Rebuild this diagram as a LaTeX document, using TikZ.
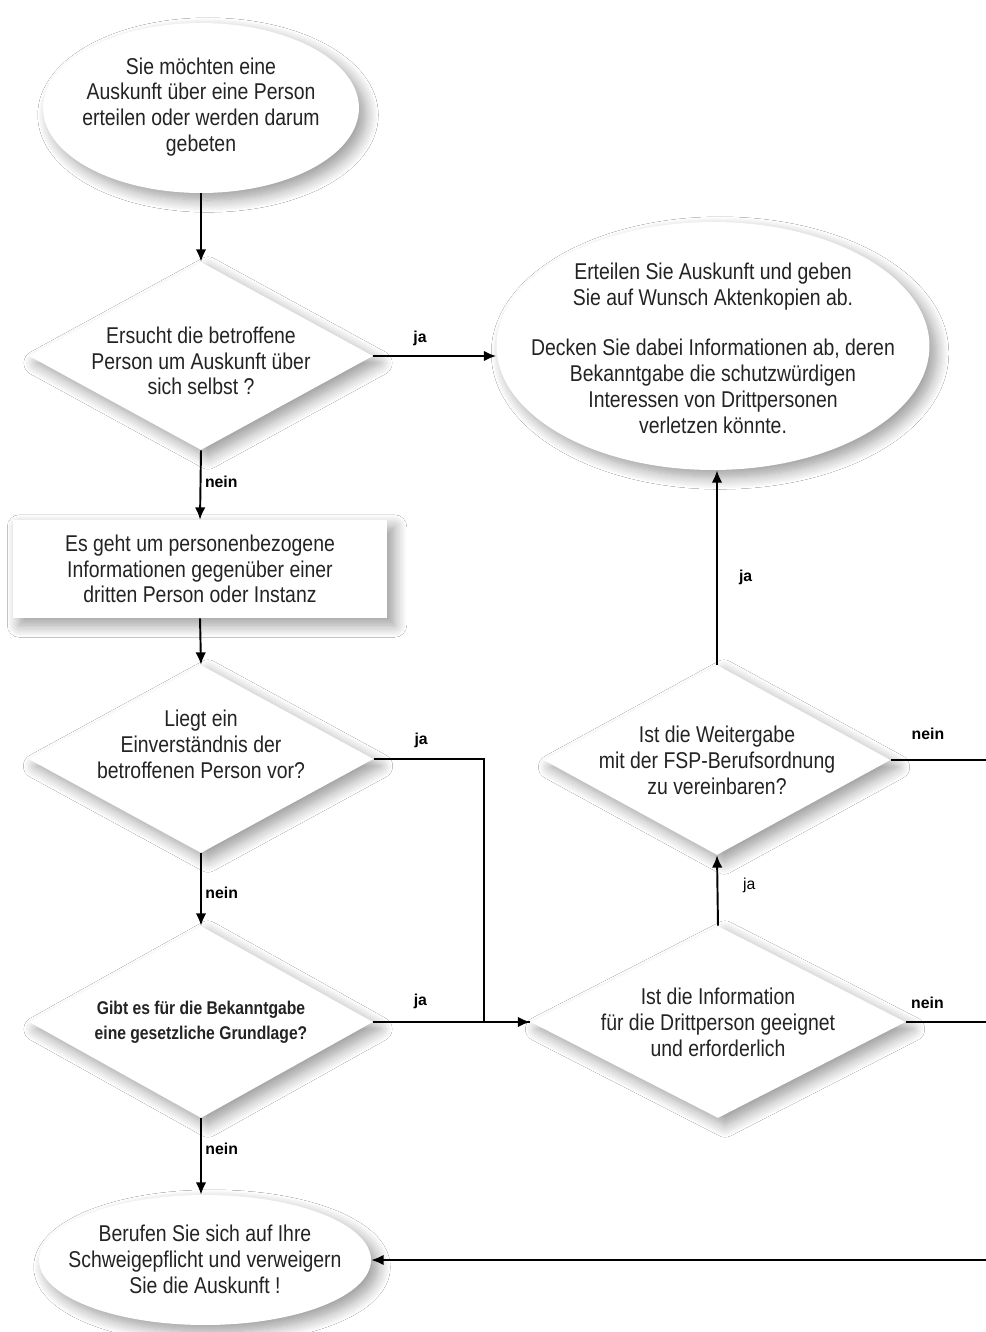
\documentclass[tikz,border=0pt]{standalone}
\usepackage{fontspec}
\setmainfont{Liberation Sans}[FakeStretch=0.85]
\newfontfamily\tagfont{Liberation Sans}
\usetikzlibrary{shapes.geometric,arrows.meta,shadows.blur}

\definecolor{mytextgray}{RGB}{35,35,35}

\tikzset{
  box/.style={fill=white, blur shadow={shadow xshift=4pt, shadow yshift=-4pt,
      shadow blur radius=7pt, shadow blur steps=12, shadow opacity=40}},
  oval/.style={box, ellipse, inner sep=0pt},
  decision/.style={box, diamond, inner sep=0pt},
  qtext/.style={align=center, text=mytextgray, font=\fontsize{13}{14.7}\selectfont},
  tag/.style={font=\tagfont\bfseries\fontsize{9}{10}\selectfont, inner sep=2pt},
  flow/.style={line width=1.1pt, -{Latex[length=7pt,width=6pt]}},
  link/.style={line width=1.1pt}
}

\begin{document}
\begin{tikzpicture}[x=0.02cm, y=-0.02cm]
  \fill[white] (0,0) rectangle (985,1332);
  \useasboundingbox (0,0) rectangle (985,1332);
  \coordinate (rail) at (1000,0);

  % left column
  \node[oval, minimum width=6.32cm, minimum height=3.4cm] (start) at (201,108) {};
  \node[qtext] (starttext) at (201,107) {Sie möchten eine\\Auskunft über eine Person\\erteilen oder werden darum\\gebeten};

  \node[decision, minimum width=6.88cm, minimum height=3.76cm] (q1) at (201,356) {};
  \node[qtext] (q1text) at (201,361) {Ersucht die betroffene\\Person um Auskunft über\\sich selbst ?};

  \node[box, rectangle, minimum width=7.5cm, minimum height=1.96cm, align=center,
        text=mytextgray, font=\fontsize{13}{14.7}\selectfont] (third) at (200,569)
        {Es geht um personenbezogene\\Informationen gegenüber einer\\dritten Person oder Instanz};

  \node[decision, minimum width=6.9cm, minimum height=3.76cm] (q2) at (201,759) {};
  \node[qtext] (q2text) at (201,744) {Liegt ein\\Einverständnis der\\betroffenen Person vor?};

  \node[decision, minimum width=6.88cm, minimum height=3.84cm] (q3) at (201,1022) {};
  \node[qtext, font=\bfseries\fontsize{10.5}{14}\selectfont] (q3text) at (201,1022) {Gibt es für die Bekanntgabe\\eine gesetzliche Grundlage?};

  \node[oval, minimum width=6.64cm, minimum height=2.6cm] (refuse) at (205,1260) {};
  \node[qtext] (refusetext) at (205,1259) {Berufen Sie sich auf Ihre\\Schweigepflicht und verweigern\\Sie die Auskunft !};

  % right column
  \node[oval, minimum width=8.66cm, minimum height=4.96cm] (info) at (713,346) {};
  \node[qtext] (infotext) at (713,348) {Erteilen Sie Auskunft und geben\\Sie auf Wunsch Aktenkopien ab.\\[14pt]Decken Sie dabei Informationen ab, deren\\Bekanntgabe die schutzwürdigen\\Interessen von Drittpersonen\\verletzen könnte.};

  \node[decision, minimum width=6.94cm, minimum height=3.8cm] (q5) at (717,760) {};
  \node[qtext] (q5text) at (717,760) {Ist die Weitergabe\\mit der FSP-Berufsordnung\\zu vereinbaren?};

  \node[decision, minimum width=7.5cm, minimum height=3.84cm] (q4) at (718,1022) {};
  \node[qtext] (q4text) at (718,1022) {Ist die Information\\für die Drittperson geeignet\\und erforderlich};

  % connectors
  \draw[flow] (start.south) -- (q1.north);
  \draw[flow] (q1.east) -- node[tag, above=3pt, pos=0.38] {ja} (q1.east -| info.west);
  \draw[flow] (q1.south) -- node[tag, right, pos=0.45] {nein} (third.north);
  \draw[flow] (third.south) -- (q2.north);
  \draw[link] (q2.east) -- node[tag, above=4pt, pos=0.43] {ja} ++(110,0) |- (q4.west);
  \draw[flow] (q2.south) -- node[tag, right, pos=0.55] {nein} (q3.north);
  \draw[flow] (q3.east) -- node[tag, above=5pt, pos=0.3] {ja} (q4.west);
  \draw[flow] (q3.south) -- node[tag, right, pos=0.4] {nein} (q3.south |- refuse.north);
  \draw[flow] (q4.north) -- node[tag, right=12pt, pos=0.57, font=\tagfont\fontsize{9}{10}\selectfont] {ja} (q5.south);
  \draw[flow] (q5.north) -- node[tag, right=10pt, pos=0.45] {ja} (q5.north |- info.south);
  \draw[flow] (q5.east) -- node[tag, above=9pt, pos=0.34] {nein} (q5.east -| rail) |- (refuse.east);
  \draw[link] (q4.east) -- node[tag, above=5pt, pos=0.23] {nein} (q4.east -| rail);
\end{tikzpicture}
\end{document}
